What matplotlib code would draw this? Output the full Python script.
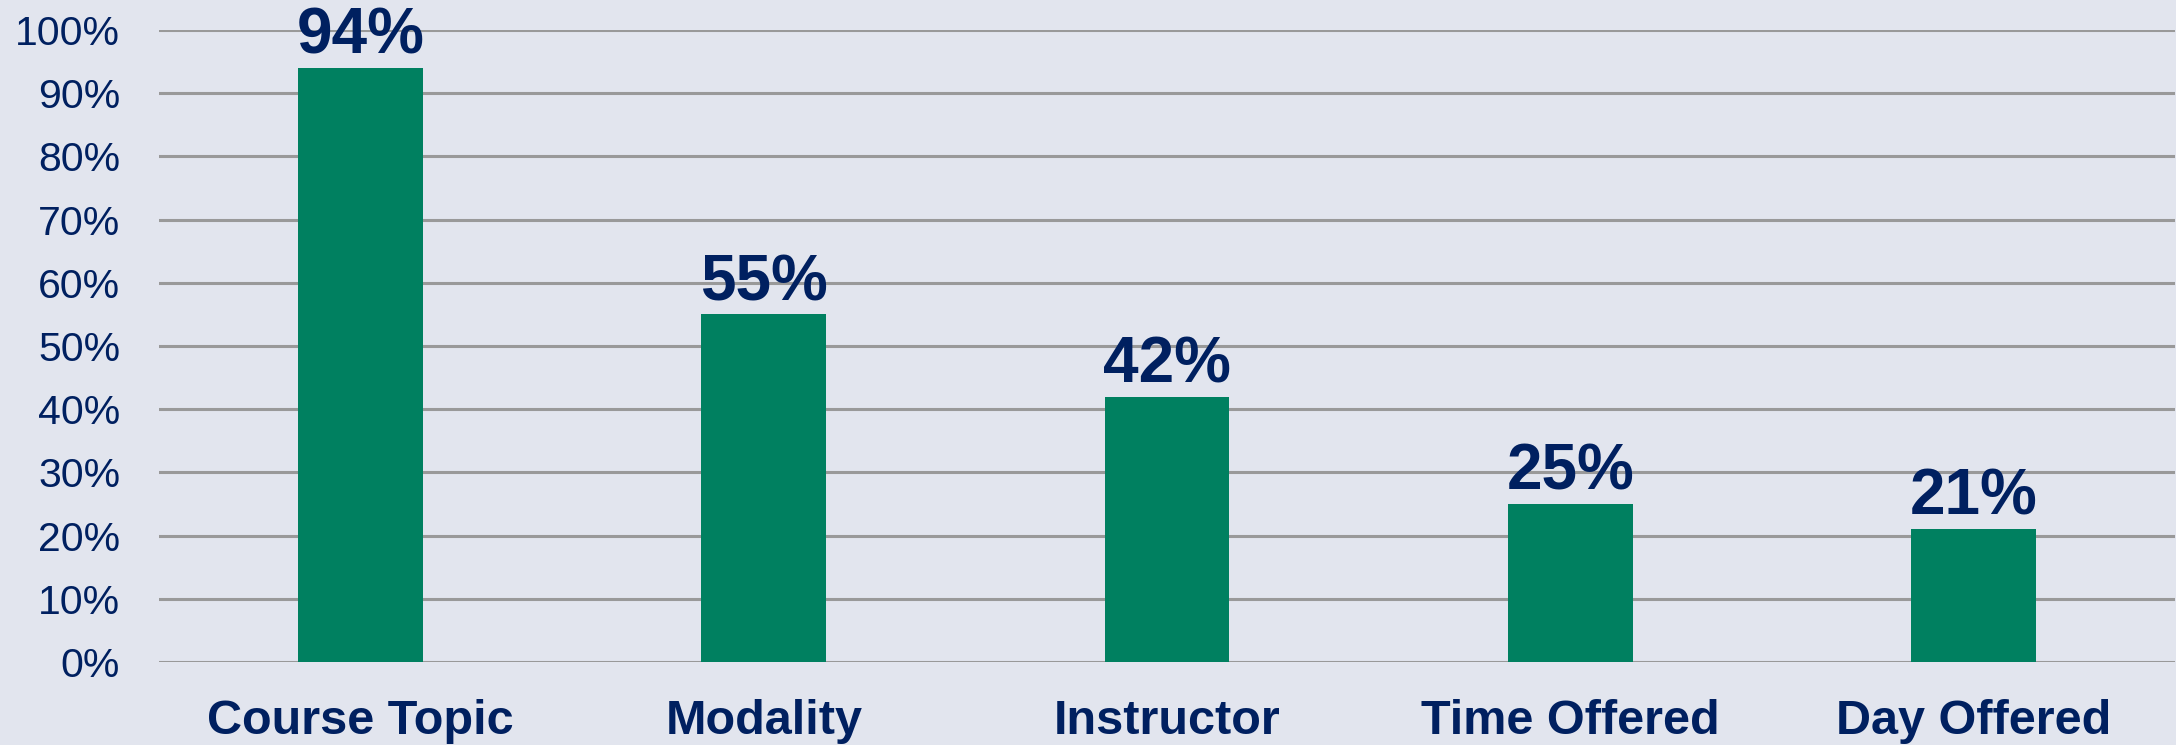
import matplotlib
matplotlib.use('Agg')
import matplotlib.pyplot as plt
from matplotlib.ticker import PercentFormatter

categories = ["Course Topic", "Modality", "Instructor", "Time Offered", "Day Offered"]
values = [94, 55, 42, 25, 21]
yticks = list(range(0, 101, 10))

NAVY = '#002060'
GREEN = '#008060'
BG = '#e2e5ee'

plt.rcParams['font.family'] = ['Liberation Sans', 'DejaVu Sans']

fig = plt.figure(figsize=(21.76, 7.45), dpi=100, facecolor=BG)
ax = fig.add_axes([159 / 2176, 83 / 745, 2016 / 2176, 632 / 745])
ax.set_facecolor(BG)

x = range(len(categories))
ax.bar(x, values, width=0.31, color=GREEN, zorder=3)
for xi, v in zip(x, values):
    ax.annotate(f"{v}%", (xi, v), xytext=(0, 1), textcoords='offset points',
                ha='center', va='bottom', fontsize=46, fontweight='bold',
                color=NAVY, clip_on=False, zorder=4)

ax.set_xlim(-0.5, len(categories) - 0.5)
ax.set_ylim(0, 100)
ax.set_yticks(yticks)
ax.yaxis.set_major_formatter(PercentFormatter(decimals=0))
ax.set_xticks(list(x))
ax.set_xticklabels(categories, fontsize=35, fontweight='bold', color=NAVY)
ax.tick_params(axis='y', length=0, pad=28, labelsize=29.5, labelcolor=NAVY)
ax.tick_params(axis='x', length=0, pad=27)
ax.grid(axis='y', color='#999999', linewidth=2.2, zorder=0)
for s in ax.spines.values():
    s.set_visible(False)

fig.savefig('out.png', dpi=100, facecolor=BG)
